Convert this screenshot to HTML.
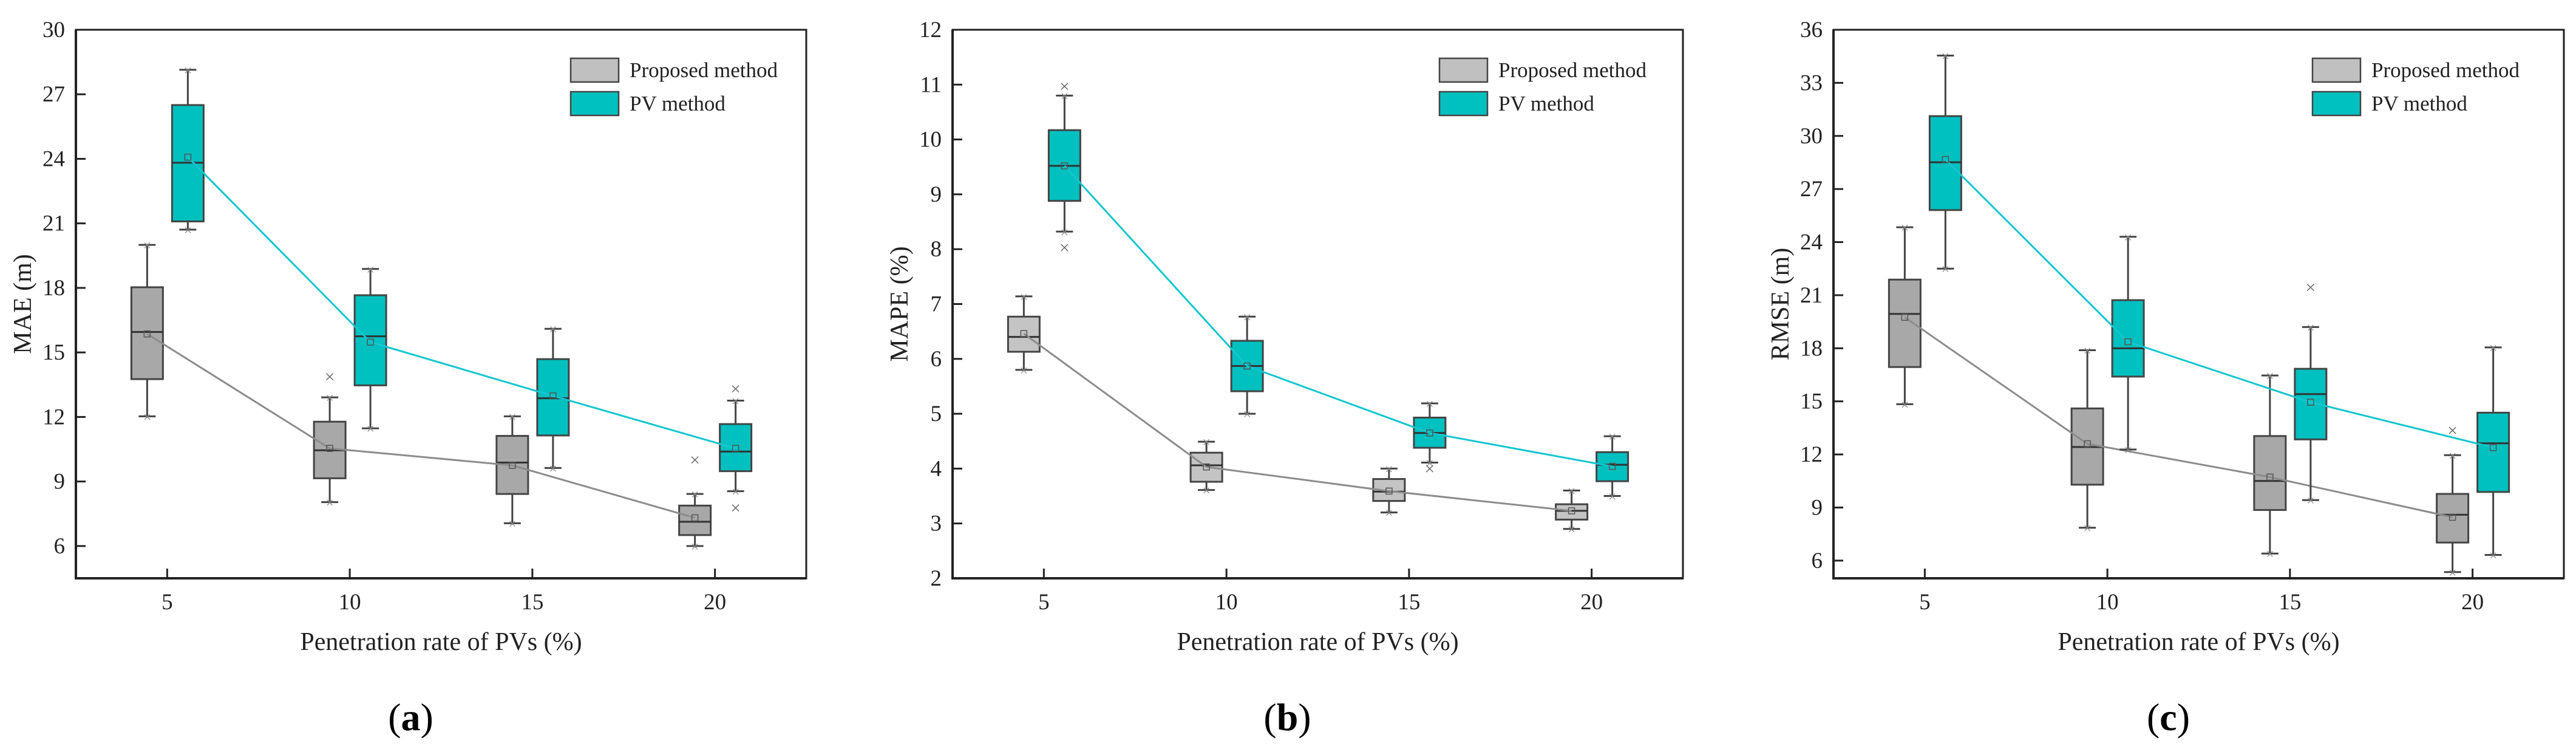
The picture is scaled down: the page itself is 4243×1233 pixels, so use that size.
<!DOCTYPE html>
<html><head><meta charset="utf-8">
<style>
html,body{margin:0;padding:0;background:#fff;}
svg{display:block;}
text{font-family:"Liberation Serif",serif;}
</style></head>
<body>
<svg id="fig" width="4243" height="1233" viewBox="0 0 4243 1233" xmlns="http://www.w3.org/2000/svg" font-family="Liberation Serif, serif"></svg>
<script>
// ---- shared categories ----
const categories = [5, 10, 15, 20];
const xTickLabels = ["5", "10", "15", "20"];

// ---- Panel (a) MAE ----
const maeProposedLow = [12.03, 8.04, 7.06, 6.0];
const maeProposedQ1 = [13.76, 9.15, 8.42, 6.51];
const maeProposedMedian = [15.95, 10.45, 9.88, 7.13];
const maeProposedQ3 = [18.03, 11.78, 11.12, 7.88];
const maeProposedHigh = [20.0, 12.91, 12.03, 8.42];
const maeProposedMean = [15.86, 10.54, 9.75, 7.31];
const maeProposedOutliers = [[], [13.87], [], [10.01]];
const maePVLow = [20.71, 11.47, 9.63, 8.55];
const maePVQ1 = [21.09, 13.47, 11.14, 9.48];
const maePVMedian = [23.82, 15.75, 12.87, 10.39];
const maePVQ3 = [26.5, 17.66, 14.69, 11.67];
const maePVHigh = [28.14, 18.88, 16.1, 12.76];
const maePVMean = [24.08, 15.48, 12.98, 10.54];
const maePVOutliers = [[], [], [], [13.31, 7.77]];
const maeYTicks = [6, 9, 12, 15, 18, 21, 24, 27, 30];

// ---- Panel (b) MAPE ----
const mapeProposedLow = [5.80, 3.61, 3.2, 2.9];
const mapeProposedQ1 = [6.13, 3.76, 3.41, 3.07];
const mapeProposedMedian = [6.40, 4.06, 3.58, 3.23];
const mapeProposedQ3 = [6.77, 4.29, 3.81, 3.35];
const mapeProposedHigh = [7.14, 4.49, 4.0, 3.6];
const mapeProposedMean = [6.46, 4.03, 3.59, 3.23];
const mapeProposedOutliers = [[], [], [], []];
const mapePVLow = [8.32, 5.0, 4.11, 3.5];
const mapePVQ1 = [8.88, 5.41, 4.38, 3.77];
const mapePVMedian = [9.52, 5.87, 4.65, 4.07];
const mapePVQ3 = [10.17, 6.33, 4.93, 4.30];
const mapePVHigh = [10.8, 6.77, 5.19, 4.59];
const mapePVMean = [9.52, 5.87, 4.65, 4.04];
const mapePVOutliers = [[10.97, 8.03], [], [4.0], []];
const mapeYTicks = [2, 3, 4, 5, 6, 7, 8, 9, 10, 11, 12];

// ---- Panel (c) RMSE ----
const rmseProposedLow = [14.84, 7.86, 6.4, 5.35];
const rmseProposedQ1 = [16.94, 10.29, 8.86, 7.02];
const rmseProposedMedian = [19.94, 12.42, 10.5, 8.59];
const rmseProposedQ3 = [21.88, 14.6, 13.04, 9.77];
const rmseProposedHigh = [24.84, 17.89, 16.46, 11.96];
const rmseProposedMean = [19.75, 12.6, 10.72, 8.45];
const rmseProposedOutliers = [[], [], [], [13.36]];
const rmsePVLow = [22.5, 12.28, 9.42, 6.32];
const rmsePVQ1 = [25.81, 16.4, 12.85, 9.88];
const rmsePVMedian = [28.51, 18.0, 15.41, 12.63];
const rmsePVQ3 = [31.12, 20.72, 16.84, 14.36];
const rmsePVHigh = [34.54, 24.3, 19.2, 18.05];
const rmsePVMean = [28.67, 18.37, 14.95, 12.39];
const rmsePVOutliers = [[], [], [21.44], []];
const rmseYTicks = [6, 9, 12, 15, 18, 21, 24, 27, 30, 33, 36];

const NS = "http://www.w3.org/2000/svg";
const fig = document.getElementById("fig");
const SERIF = "Liberation Serif, serif";
function mk(tag, attrs, parent) {
  const e = document.createElementNS(NS, tag);
  for (const k in attrs) e.setAttribute(k, attrs[k]);
  if (tag === "text" && !attrs["font-family"]) e.setAttribute("font-family", SERIF);
  (parent || fig).appendChild(e);
  return e;
}

function drawPanel(p) {
  const g = mk("g", {"font-family": SERIF});
  
  
  const L = p.left, T = 49, W = 1203, H = 903, B = T + H, R = L + W;
  const xs = v => L + (v - 2.5) / 20 * W;
  const ys = v => B - (v - p.ymin) / (p.ymax - p.ymin) * H;

  p.yTicks.forEach(t => {
    const tk = mk("line", {x1: L, x2: L + 16, y1: ys(t), y2: ys(t), stroke: "#222", "stroke-width": 3}, g);
    
    
    const tl = mk("text", {x: L - 18, y: ys(t) + 12, "text-anchor": "end", "font-size": 37, fill: "#222"}, g);
    tl.textContent = String(t);
    
    
  });
  categories.forEach((c, i) => {
    const tk = mk("line", {x1: xs(c), x2: xs(c), y1: B, y2: B - 16, stroke: "#222", "stroke-width": 3}, g);
    
    
    const tl = mk("text", {x: xs(c), y: 1003, "text-anchor": "middle", "font-size": 37, fill: "#222"}, g);
    tl.textContent = xTickLabels[i];
    
    
  });

  const series = [
    {d: p.prop, off: -33, fill: p.grayFill, line: "#8c8c8c", name: "proposed"},
    {d: p.pv, off: 34, fill: "#00c0c0", line: "#14c6cf", name: "pv"}
  ];
  series.forEach(s => {
    const bw = 52;
    categories.forEach((c, i) => {
      const cx = xs(c) + s.off;
      const w = mk("line", {x1: cx, x2: cx, y1: ys(s.d.high[i]), y2: ys(s.d.low[i]), stroke: "#444", "stroke-width": 3}, g);
      
      
      [s.d.high[i], s.d.low[i]].forEach(v => {
        const cap = mk("line", {x1: cx - 14, x2: cx + 14, y1: ys(v), y2: ys(v), stroke: "#444", "stroke-width": 3}, g);
        
        
        const st = mk("text", {x: cx, y: ys(v) + 9, "text-anchor": "middle", "font-size": 24, fill: "#888", "font-family": "Liberation Sans, sans-serif"}, g);
        st.textContent = "×";
        
        
      });
      const box = mk("rect", {x: cx - bw / 2, y: ys(s.d.q3[i]), width: bw, height: ys(s.d.q1[i]) - ys(s.d.q3[i]), fill: s.fill, stroke: "#444", "stroke-width": 3}, g);
      
      
      const md = mk("line", {x1: cx - bw / 2, x2: cx + bw / 2, y1: ys(s.d.med[i]), y2: ys(s.d.med[i]), stroke: "#333", "stroke-width": 3}, g);
      
      
      s.d.out[i].forEach(v => {
        const o = mk("text", {x: cx, y: ys(v) + 10, "text-anchor": "middle", "font-size": 30, fill: "#666", "font-family": "Liberation Sans, sans-serif"}, g);
        o.textContent = "×";
        
        
      });
    });
    const pts = categories.map((c, i) => (xs(c) + s.off) + "," + ys(s.d.mean[i])).join(" ");
    const pl = mk("polyline", {points: pts, fill: "none", stroke: s.line, "stroke-width": 3}, g);
    
    
    categories.forEach((c, i) => {
      const m = mk("rect", {x: xs(c) + s.off - 5, y: ys(s.d.mean[i]) - 5, width: 10, height: 10, fill: "none", stroke: "#555", "stroke-width": 1.5}, g);
      
      
    });
  });

  const fr = mk("rect", {x: L, y: T, width: W, height: H, fill: "none", stroke: "#222", "stroke-width": 3}, g);
  
  
  const ax = mk("path", {d: `M${L},${T} V${B} H${R}`, fill: "none", stroke: "#222", "stroke-width": 4}, g);
  
  

  const lx = L + p.legOff;
  const lg = mk("g", {}, g);
  
  
  [["Proposed method", "#c0c0c0", 96], ["PV method", "#00c0c0", 151]].forEach(e => {
    const sw = mk("rect", {x: lx, y: e[2], width: 79, height: 39, fill: e[1], stroke: "#444", "stroke-width": 2.5}, lg);
    
    
    const t = mk("text", {x: lx + 97, y: e[2] + 31, "font-size": 35, fill: "#222"}, lg);
    t.textContent = e[0];
    
    
  });

  const yt = mk("text", {x: 0, y: 0, transform: `translate(${L - 74},${T + H / 2}) rotate(-90)`, "text-anchor": "middle", "font-size": 42, fill: "#222"}, g);
  yt.textContent = p.yTitle;
  
  
  const xt = mk("text", {x: L + W / 2, y: 1070, "text-anchor": "middle", "font-size": 42, fill: "#222"}, g);
  xt.textContent = "Penetration rate of PVs (%)";
  
  
  const cap = mk("text", {x: L + W / 2 - 50, y: 1202, "text-anchor": "middle", "font-size": 64, fill: "#000"}, g);
  
  
  cap.innerHTML = '(<tspan font-weight="bold">' + p.letter + '</tspan>)';
}

drawPanel({name: "panel-a-mae", left: 125, ymin: 4.5, ymax: 30, yTicks: maeYTicks, yTitle: "MAE (m)", letter: "a", legOff: 815, grayFill: "#a8a8a8",
  prop: {low: maeProposedLow, q1: maeProposedQ1, med: maeProposedMedian, q3: maeProposedQ3, high: maeProposedHigh, mean: maeProposedMean, out: maeProposedOutliers},
  pv: {low: maePVLow, q1: maePVQ1, med: maePVMedian, q3: maePVQ3, high: maePVHigh, mean: maePVMean, out: maePVOutliers}});
drawPanel({name: "panel-b-mape", left: 1569, ymin: 2, ymax: 12, yTicks: mapeYTicks, yTitle: "MAPE (%)", letter: "b", legOff: 802, grayFill: "#c4c4c4",
  prop: {low: mapeProposedLow, q1: mapeProposedQ1, med: mapeProposedMedian, q3: mapeProposedQ3, high: mapeProposedHigh, mean: mapeProposedMean, out: mapeProposedOutliers},
  pv: {low: mapePVLow, q1: mapePVQ1, med: mapePVMedian, q3: mapePVQ3, high: mapePVHigh, mean: mapePVMean, out: mapePVOutliers}});
drawPanel({name: "panel-c-rmse", left: 3020, ymin: 5, ymax: 36, yTicks: rmseYTicks, yTitle: "RMSE (m)", letter: "c", legOff: 789, grayFill: "#a8a8a8",
  prop: {low: rmseProposedLow, q1: rmseProposedQ1, med: rmseProposedMedian, q3: rmseProposedQ3, high: rmseProposedHigh, mean: rmseProposedMean, out: rmseProposedOutliers},
  pv: {low: rmsePVLow, q1: rmsePVQ1, med: rmsePVMedian, q3: rmsePVQ3, high: rmsePVHigh, mean: rmsePVMean, out: rmsePVOutliers}});
</script>
</body></html>
